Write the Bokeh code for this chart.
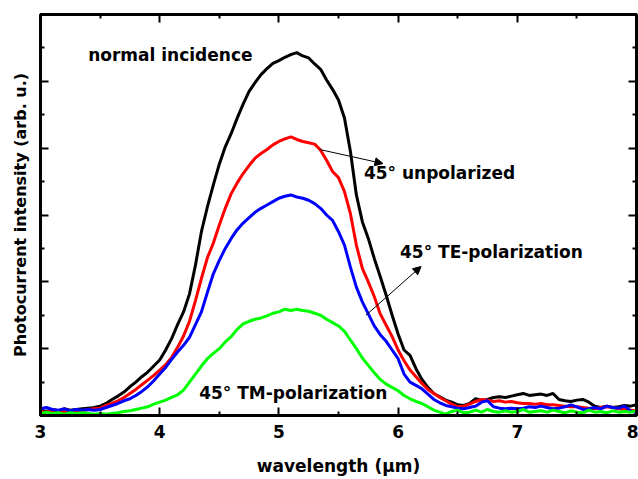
from bokeh.plotting import figure
from bokeh.models import Range1d, LinearAxis, Label, Arrow, NormalHead, FixedTicker
from bokeh.embed import file_html
from bokeh.resources import INLINE

wavelength = [3.00, 3.05, 3.10, 3.15, 3.20, 3.25, 3.30, 3.35, 3.40, 3.45,
              3.50, 3.55, 3.60, 3.65, 3.70, 3.75, 3.80, 3.85, 3.90, 3.95,
              4.00, 4.05, 4.10, 4.15, 4.20, 4.25, 4.30, 4.35, 4.40, 4.45,
              4.50, 4.55, 4.60, 4.65, 4.70, 4.75, 4.80, 4.85, 4.90, 4.95,
              5.00, 5.05, 5.10, 5.15, 5.20, 5.25, 5.30, 5.35, 5.40, 5.45,
              5.50, 5.55, 5.60, 5.65, 5.70, 5.75, 5.80, 5.85, 5.90, 5.95,
              6.00, 6.05, 6.10, 6.15, 6.20, 6.25, 6.30, 6.35, 6.40, 6.45,
              6.50, 6.55, 6.60, 6.65, 6.70, 6.75, 6.80, 6.85, 6.90, 6.95,
              7.00, 7.05, 7.10, 7.15, 7.20, 7.25, 7.30, 7.35, 7.40, 7.45,
              7.50, 7.55, 7.60, 7.65, 7.70, 7.75, 7.80, 7.85, 7.90, 7.95,
              8.00]

normal_incidence = [0.08, 0.06, 0.09, 0.07, 0.10, 0.08, 0.09, 0.10, 0.11, 0.12,
                    0.14, 0.18, 0.24, 0.29, 0.35, 0.43, 0.50, 0.58, 0.65, 0.74,
                    0.83, 0.98, 1.15, 1.36, 1.55, 1.82, 2.25, 2.75, 3.12, 3.45,
                    3.76, 4.02, 4.22, 4.45, 4.66, 4.85, 4.98, 5.10, 5.19, 5.27,
                    5.31, 5.36, 5.40, 5.43, 5.38, 5.35, 5.26, 5.18, 5.02, 4.88,
                    4.72, 4.45, 3.95, 3.30, 2.90, 2.65, 2.35, 2.08, 1.80, 1.50,
                    1.22, 0.98, 0.90, 0.70, 0.54, 0.42, 0.33, 0.28, 0.23, 0.20,
                    0.16, 0.15, 0.18, 0.25, 0.23, 0.24, 0.27, 0.28, 0.27, 0.29,
                    0.31, 0.33, 0.30, 0.31, 0.32, 0.30, 0.33, 0.24, 0.22, 0.21,
                    0.23, 0.24, 0.20, 0.14, 0.12, 0.14, 0.12, 0.13, 0.15, 0.14,
                    0.16]

unpolarized = [0.06, 0.05, 0.07, 0.06, 0.05, 0.07, 0.08, 0.07, 0.09, 0.10,
               0.11, 0.15, 0.18, 0.22, 0.27, 0.33, 0.39, 0.46, 0.53, 0.60,
               0.68, 0.76, 0.87, 1.02, 1.19, 1.41, 1.72, 2.05, 2.36, 2.58,
               2.85, 3.10, 3.32, 3.48, 3.62, 3.74, 3.85, 3.92, 3.98, 4.05,
               4.10, 4.14, 4.17, 4.13, 4.10, 4.08, 4.06, 3.97, 3.82, 3.65,
               3.56, 3.35, 3.02, 2.55, 2.20, 2.00, 1.78, 1.52, 1.35, 1.18,
               0.98, 0.82, 0.68, 0.58, 0.48, 0.39, 0.33, 0.27, 0.22, 0.17,
               0.13, 0.14, 0.17, 0.21, 0.24, 0.23, 0.21, 0.22, 0.20, 0.21,
               0.19, 0.18, 0.18, 0.17, 0.18, 0.16, 0.16, 0.15, 0.14, 0.13,
               0.13, 0.12, 0.11, 0.10, 0.12, 0.13, 0.12, 0.10, 0.09, 0.08,
               0.07]

te_polarization = [0.10, 0.12, 0.09, 0.08, 0.10, 0.07, 0.09, 0.08, 0.09, 0.08,
                   0.09, 0.12, 0.15, 0.18, 0.22, 0.25, 0.30, 0.36, 0.43, 0.52,
                   0.62, 0.72, 0.84, 0.95, 1.05, 1.17, 1.36, 1.55, 1.84, 2.12,
                   2.32, 2.50, 2.65, 2.78, 2.88, 2.96, 3.04, 3.10, 3.15, 3.20,
                   3.25, 3.28, 3.30, 3.27, 3.25, 3.22, 3.17, 3.10, 3.00, 2.92,
                   2.75, 2.55, 2.22, 1.92, 1.70, 1.52, 1.34, 1.21, 1.11, 0.98,
                   0.85, 0.62, 0.50, 0.45, 0.40, 0.32, 0.24, 0.19, 0.15, 0.13,
                   0.11, 0.10, 0.12, 0.14, 0.20, 0.22, 0.13, 0.11, 0.10, 0.11,
                   0.10, 0.11, 0.13, 0.12, 0.14, 0.12, 0.10, 0.11, 0.13, 0.16,
                   0.13, 0.09, 0.10, 0.12, 0.10, 0.14, 0.12, 0.11, 0.14, 0.07,
                   0.04]

tm_polarization = [0.03, 0.05, 0.03, 0.04, 0.02, 0.04, 0.03, 0.04, 0.03, 0.02,
                   0.03, 0.02, 0.03, 0.04, 0.06, 0.07, 0.09, 0.11, 0.13, 0.17,
                   0.20, 0.23, 0.27, 0.31, 0.38, 0.50, 0.62, 0.74, 0.85, 0.93,
                   1.00, 1.10, 1.18, 1.29, 1.37, 1.41, 1.44, 1.46, 1.49, 1.53,
                   1.55, 1.59, 1.57, 1.59, 1.57, 1.56, 1.53, 1.50, 1.44, 1.39,
                   1.34, 1.26, 1.13, 1.00, 0.86, 0.75, 0.64, 0.54, 0.47, 0.42,
                   0.37, 0.30, 0.25, 0.21, 0.18, 0.13, 0.08, 0.05, 0.02, 0.06,
                   0.08, 0.04, 0.05, 0.08, 0.05, 0.09, 0.06, 0.05, 0.07, 0.05,
                   0.06, 0.09, 0.05, 0.06, 0.07, 0.05, 0.08, 0.06, 0.04, 0.07,
                   0.05, 0.04, 0.08, 0.05, 0.06, 0.04, 0.07, 0.05, 0.06, 0.05,
                   0.07]

x_ticks = [3, 4, 5, 6, 7, 8]
x_minor = [3.5, 4.5, 5.5, 6.5, 7.5]
y_ticks = [0, 1, 2, 3, 4, 5, 6]
y_minor = [0.5, 1.5, 2.5, 3.5, 4.5, 5.5]

FONT = "DejaVu Sans"

p = figure(width=638, height=479, output_backend="svg", toolbar_location=None,
           x_range=Range1d(3, 8), y_range=Range1d(0, 6),
           min_border_left=40, min_border_right=2, min_border_top=14, min_border_bottom=64)
p.xgrid.visible = False
p.ygrid.visible = False
p.outline_line_color = "black"
p.outline_line_width = 3
p.background_fill_color = "white"
p.border_fill_color = "white"

def style_axis(ax, show_labels):
    ax.axis_line_color = "black"
    ax.axis_line_width = 3
    ax.major_tick_in = 8
    ax.major_tick_out = 0
    ax.minor_tick_in = 4
    ax.minor_tick_out = 0
    ax.major_tick_line_width = 2
    ax.minor_tick_line_width = 2
    ax.major_tick_line_color = "black"
    ax.minor_tick_line_color = "black"
    if show_labels:
        ax.major_label_text_font = FONT
        ax.major_label_text_font_style = "bold"
        ax.major_label_text_font_size = "17px"
        ax.major_label_text_color = "black"
        ax.major_label_text_line_height = 1.0
        ax.major_label_standoff = 9
    else:
        ax.major_label_text_font_size = "1px"
        ax.major_label_text_color = None
        ax.major_label_standoff = 0

xt = FixedTicker(ticks=x_ticks, minor_ticks=x_minor)
yt = FixedTicker(ticks=y_ticks, minor_ticks=y_minor)

p.xaxis.ticker = xt
p.yaxis.ticker = yt
style_axis(p.xaxis[0], True)
style_axis(p.yaxis[0], False)

p.xaxis.axis_label = "wavelength (µm)"
p.xaxis.axis_label_text_font = FONT
p.xaxis.axis_label_text_font_style = "bold"
p.xaxis.axis_label_text_font_size = "17px"
p.xaxis.axis_label_text_color = "black"
p.xaxis.axis_label_text_line_height = 1.0
p.xaxis.axis_label_standoff = 15

p.yaxis.axis_label = "Photocurrent intensity (arb. u.)"
p.yaxis.axis_label_text_font = FONT
p.yaxis.axis_label_text_font_style = "bold"
p.yaxis.axis_label_text_font_size = "16px"
p.yaxis.axis_label_text_color = "black"
p.yaxis.axis_label_standoff = 11

top_ax = LinearAxis(ticker=xt)
right_ax = LinearAxis(ticker=yt)
style_axis(top_ax, False)
style_axis(right_ax, False)
p.add_layout(top_ax, "above")
p.add_layout(right_ax, "right")

p.line(wavelength, normal_incidence, line_color="black", line_width=3)
p.line(wavelength, unpolarized, line_color="#ff0000", line_width=3)
p.line(wavelength, te_polarization, line_color="#0000ff", line_width=3)
p.line(wavelength, tm_polarization, line_color="#00ff00", line_width=3)

def txt(x, y, s):
    p.add_layout(Label(x=x, y=y, text=s, text_font=FONT, text_font_style="bold",
                       text_font_size="17px", text_color="black",
                       text_align="left", text_baseline="middle"))

txt(3.40, 5.39, "normal incidence")
txt(5.713, 3.63, "45° unpolarized")
txt(6.016, 2.44, "45° TE-polarization")
txt(4.331, 0.33, "45° TM-polarization")

p.add_layout(Arrow(x_start=5.342, y_start=3.98, x_end=5.873, y_end=3.77,
                   line_color="black", line_width=1,
                   end=NormalHead(size=8, fill_color="black", line_color="black", line_width=1)))
p.add_layout(Arrow(x_start=5.730, y_start=1.50, x_end=6.193, y_end=2.23,
                   line_color="black", line_width=1,
                   end=NormalHead(size=8, fill_color="black", line_color="black", line_width=1)))

open("out.html", "w").write(file_html(p, INLINE))
